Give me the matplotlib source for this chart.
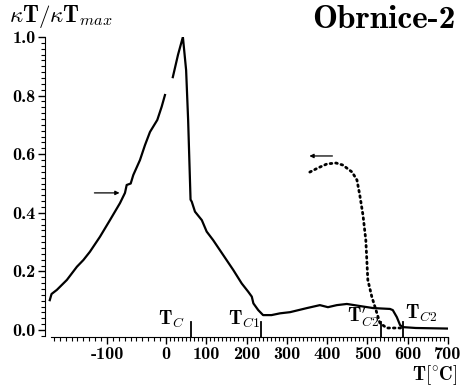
import numpy as np
import matplotlib
matplotlib.use("Agg")
from matplotlib import pyplot as plt

plt.rcParams['mathtext.fontset'] = 'cm'
plt.rcParams['axes.unicode_minus'] = False

# curva de aquecimento (linha cheia), trecho antes da falha
T_aq1 = [-197, -194, -185, -168, -151, -140, -129, -112, -95, -78, -69.5, -66.6, -59.8, -55.4,
         -44.1, -35.6, -27.1, -14.7, -7.3, -1.7]
k_aq1 = [0.102, 0.123, 0.137, 0.171, 0.216, 0.239, 0.267, 0.318, 0.375, 0.433, 0.468, 0.495,
         0.50, 0.529, 0.580, 0.631, 0.676, 0.717, 0.762, 0.802]
# curva de aquecimento depois da falha
T_aq2 = [17, 30, 42, 50, 55, 61, 64, 72, 89, 101, 117, 142, 167, 188, 204, 213, 217, 229, 241,
         262, 283, 308, 350, 382, 402, 424, 449, 481, 514, 556, 563, 573, 581, 588, 620, 700]
k_aq2 = [0.863, 0.94, 1.0, 0.887, 0.717, 0.445, 0.438, 0.404, 0.375, 0.336, 0.307, 0.256, 0.205,
         0.159, 0.131, 0.114, 0.091, 0.068, 0.051, 0.051, 0.057, 0.061, 0.075, 0.085, 0.078,
         0.085, 0.089, 0.082, 0.075, 0.072, 0.068, 0.044, 0.017, 0.010, 0.007, 0.005]
# curva de resfriamento (pontilhada)
T_resf = [357, 377, 400, 422, 439, 462, 474, 481, 489, 496, 501, 511, 519, 531, 548, 588]
k_resf = [0.539, 0.553, 0.567, 0.570, 0.563, 0.539, 0.512, 0.461, 0.392, 0.307, 0.171, 0.113,
          0.078, 0.024, 0.007, 0.007]

# temperaturas marcadas no eixo
T_marcas = [61, 237, 533, 588]
nomes_marcas = [r'$\mathbf{T}_C$', r'$\mathbf{T}_{C1}$', r"$\mathbf{T}^{\prime}_{C2}$", r'$\mathbf{T}_{C2}$']

x_ticks = [-100, 0, 100, 200, 300, 400, 500, 600, 700]
y_ticks = [0.0, 0.2, 0.4, 0.6, 0.8, 1.0]

# escala: lado negativo mais esticado
r = 0.59/0.403
def fwd(x):
    x = np.asarray(x, dtype=float)
    return np.where(x < 0, x*r, x)
def inv(u):
    u = np.asarray(u, dtype=float)
    return np.where(u < 0, u/r, u)

fig = plt.figure(figsize=(4.71, 3.86), dpi=100)
ax = fig.add_axes([48/471, (386-335.9)/386, 400/471, (335.9-37)/386])
ax.set_xscale('function', functions=(fwd, inv))

ax.plot(T_aq1, k_aq1, color='black', lw=1.6)
ax.plot(T_aq2, k_aq2, color='black', lw=1.6)
ax.plot(T_resf, k_resf, color='black', lw=2.0, linestyle=(0, (0.6, 1.4)), dash_capstyle='round')

ax.set_xlim(-200, 700)
ax.set_ylim(-0.02, 1.0)

for s in ['top', 'right']:
    ax.spines[s].set_visible(False)
ax.spines['left'].set_position(('outward', 2))
ax.spines['bottom'].set_position(('outward', 1))
ax.spines['left'].set_bounds(-0.02, 1.0)
ax.spines['bottom'].set_bounds(-195, 700)

ax.set_xticks(x_ticks)
ax.set_xticklabels([str(t) for t in x_ticks], family='cmb10', fontsize=13)
ax.set_xticks(list(range(-190, 701, 10)), minor=True)
ax.set_yticks(y_ticks)
ax.set_yticklabels(['%.1f' % t for t in y_ticks], family='cmb10', fontsize=13)
ax.set_yticks(list(np.arange(-0.02, 1.001, 0.02)), minor=True)
ax.tick_params(which='major', direction='out', length=5, width=1.0, pad=2)
ax.tick_params(which='minor', direction='out', length=3, width=0.8)

# marcas T_C
for t, nome in zip(T_marcas, nomes_marcas):
    ax.plot([t, t], [-0.024, 0.027], color='black', lw=1.3, clip_on=False)
ax.text(47, 0.0, nomes_marcas[0], ha='right', va='bottom', fontsize=14)
ax.text(232, 0.0, nomes_marcas[1], ha='right', va='bottom', fontsize=14)
ax.text(528, 0.0, nomes_marcas[2], ha='right', va='bottom', fontsize=14)
ax.text(594, 0.02, nomes_marcas[3], ha='left', va='bottom', fontsize=14)

# setas
ax.annotate('', xy=(-74, 0.468), xytext=(-126, 0.468),
            arrowprops=dict(arrowstyle='-|>', color='black', lw=0.9, mutation_scale=6))
ax.annotate('', xy=(349, 0.594), xytext=(420, 0.594),
            arrowprops=dict(arrowstyle='-|>', color='black', lw=0.9, mutation_scale=6))

fig.text(9/471, 1-22/386, r'$\kappa\mathbf{T}/\kappa\mathbf{T}_{max}$', fontsize=16.5, ha='left', va='baseline')
fig.text(456/471, 1-28/386, 'Obrnice-2', family='cmb10', fontsize=24, ha='right', va='baseline')
fig.text(457/471, 1-380/386, r'$\mathbf{T}[^{\circ}\mathbf{C}]$', fontsize=13.5, ha='right', va='baseline')

fig.savefig('out.png', dpi=100)
